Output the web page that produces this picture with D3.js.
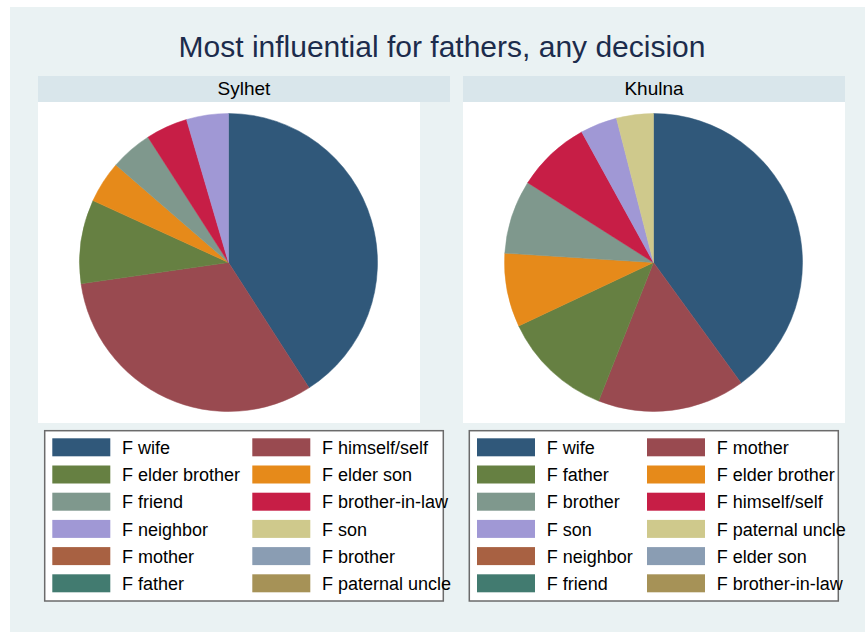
<!DOCTYPE html>
<html>
<head>
<meta charset="utf-8">
<script src="https://cdn.jsdelivr.net/npm/d3@7"></script>
<style>
  body { margin: 0; background: #ffffff; }
  svg { display: block; font-family: "Liberation Sans", Arial, sans-serif; }
</style>
</head>
<body>
<div id="chart"></div>
<script>
// Data (counts per category)
const sylhetCats = ["F wife", "F himself/self", "F elder brother", "F elder son", "F friend", "F brother-in-law",
                    "F neighbor", "F son", "F mother", "F brother", "F father", "F paternal uncle"];
const sylhetVals = [9, 7, 2, 1, 1, 1, 1, 0, 0, 0, 0, 0];

const khulnaCats = ["F wife", "F mother", "F father", "F elder brother", "F brother", "F himself/self",
                    "F son", "F paternal uncle", "F neighbor", "F elder son", "F friend", "F brother-in-law"];
const khulnaVals = [10, 4, 3, 2, 2, 2, 1, 1, 0, 0, 0, 0];

// Stata-like palette, by slice order
const palette = ["#30587a", "#994a50", "#668042", "#e68a1a", "#7f988d", "#c71e46",
                 "#a098d5", "#cfc98c", "#a86142", "#8a9db3", "#427b70", "#a69257"];

const titleText = "Most influential for fathers, any decision";

const W = 865, H = 632;

const svg = d3.select("#chart")
    .append("svg")
    .attr("width", W)
    .attr("height", H);

// outer background
svg.append("rect")
    .attr("x", 10).attr("y", 7)
    .attr("width", W - 10).attr("height", H - 7)
    .attr("fill", "#eaf2f3");

svg.append("text")
    .attr("x", 442)
    .attr("y", 57)
    .attr("text-anchor", "middle")
    .style("font-size", "30px")
    .style("fill", "#1c2c4c")
    .text(titleText);

const panels = [
    { name: "Sylhet", cats: sylhetCats, vals: sylhetVals, plotX: 38, stripW: 412, legX: 44.7, legW: 398.6,
      swatchX: [52.3, 252.3], textX: [122, 322] },
    { name: "Khulna", cats: khulnaCats, vals: khulnaVals, plotX: 463, stripW: 382, legX: 469.3, legW: 369,
      swatchX: [477, 647], textX: [546.7, 716.7] }
];

const plotW = 382;
const plotTop = 102, plotBottom = 423;
const radius = 149;

const pie = d3.pie().sort(null).value(d => d.value);
const arc = d3.arc().innerRadius(0).outerRadius(radius);

panels.forEach(p => {
    const g = svg.append("g");

    // header strip
    g.append("rect")
        .attr("x", p.plotX).attr("y", 76)
        .attr("width", p.stripW).attr("height", 26)
        .attr("fill", "#d9e6eb");

    g.append("text")
        .attr("x", p.plotX + p.stripW / 2)
        .attr("y", 95)
        .attr("text-anchor", "middle")
        .style("font-size", "19px")
        .style("fill", "#000")
        .text(p.name);

    // plot region
    g.append("rect")
        .attr("x", p.plotX).attr("y", plotTop)
        .attr("width", plotW).attr("height", plotBottom - plotTop)
        .attr("fill", "#ffffff");

    const data = p.cats.map((c, i) => ({ label: c, value: p.vals[i], color: palette[i] }));

    const cx = p.plotX + plotW / 2 - 0.5;
    const cy = (plotTop + plotBottom) / 2;

    g.append("g")
        .attr("transform", `translate(${cx},${cy})`)
        .selectAll("path")
        .data(pie(data).filter(d => d.value > 0))
        .enter().append("path")
        .attr("d", arc)
        .attr("fill", d => d.data.color)
        .attr("stroke", d => d.data.color)
        .attr("stroke-width", 0.5);

    // legend box
    g.append("rect")
        .attr("x", p.legX).attr("y", 430.7)
        .attr("width", p.legW).attr("height", 170.3)
        .attr("fill", "#ffffff")
        .attr("stroke", "#6b6b6b")
        .attr("stroke-width", 1.5);

    const rowStep = 27.2;
    const leg = g.selectAll(".leg-" + p.name)
        .data(data)
        .enter().append("g")
        .attr("class", "leg-" + p.name)
        .attr("transform", (d, i) => `translate(0, ${438.3 + Math.floor(i / 2) * rowStep})`);

    leg.append("rect")
        .attr("x", (d, i) => p.swatchX[i % 2])
        .attr("y", 0)
        .attr("width", 58)
        .attr("height", 18)
        .attr("fill", d => d.color);

    leg.append("text")
        .attr("x", (d, i) => p.textX[i % 2])
        .attr("y", 15.7)
        .style("font-size", "18px")
        .style("fill", "#000")
        .text(d => d.label);
});
</script>
</body>
</html>
